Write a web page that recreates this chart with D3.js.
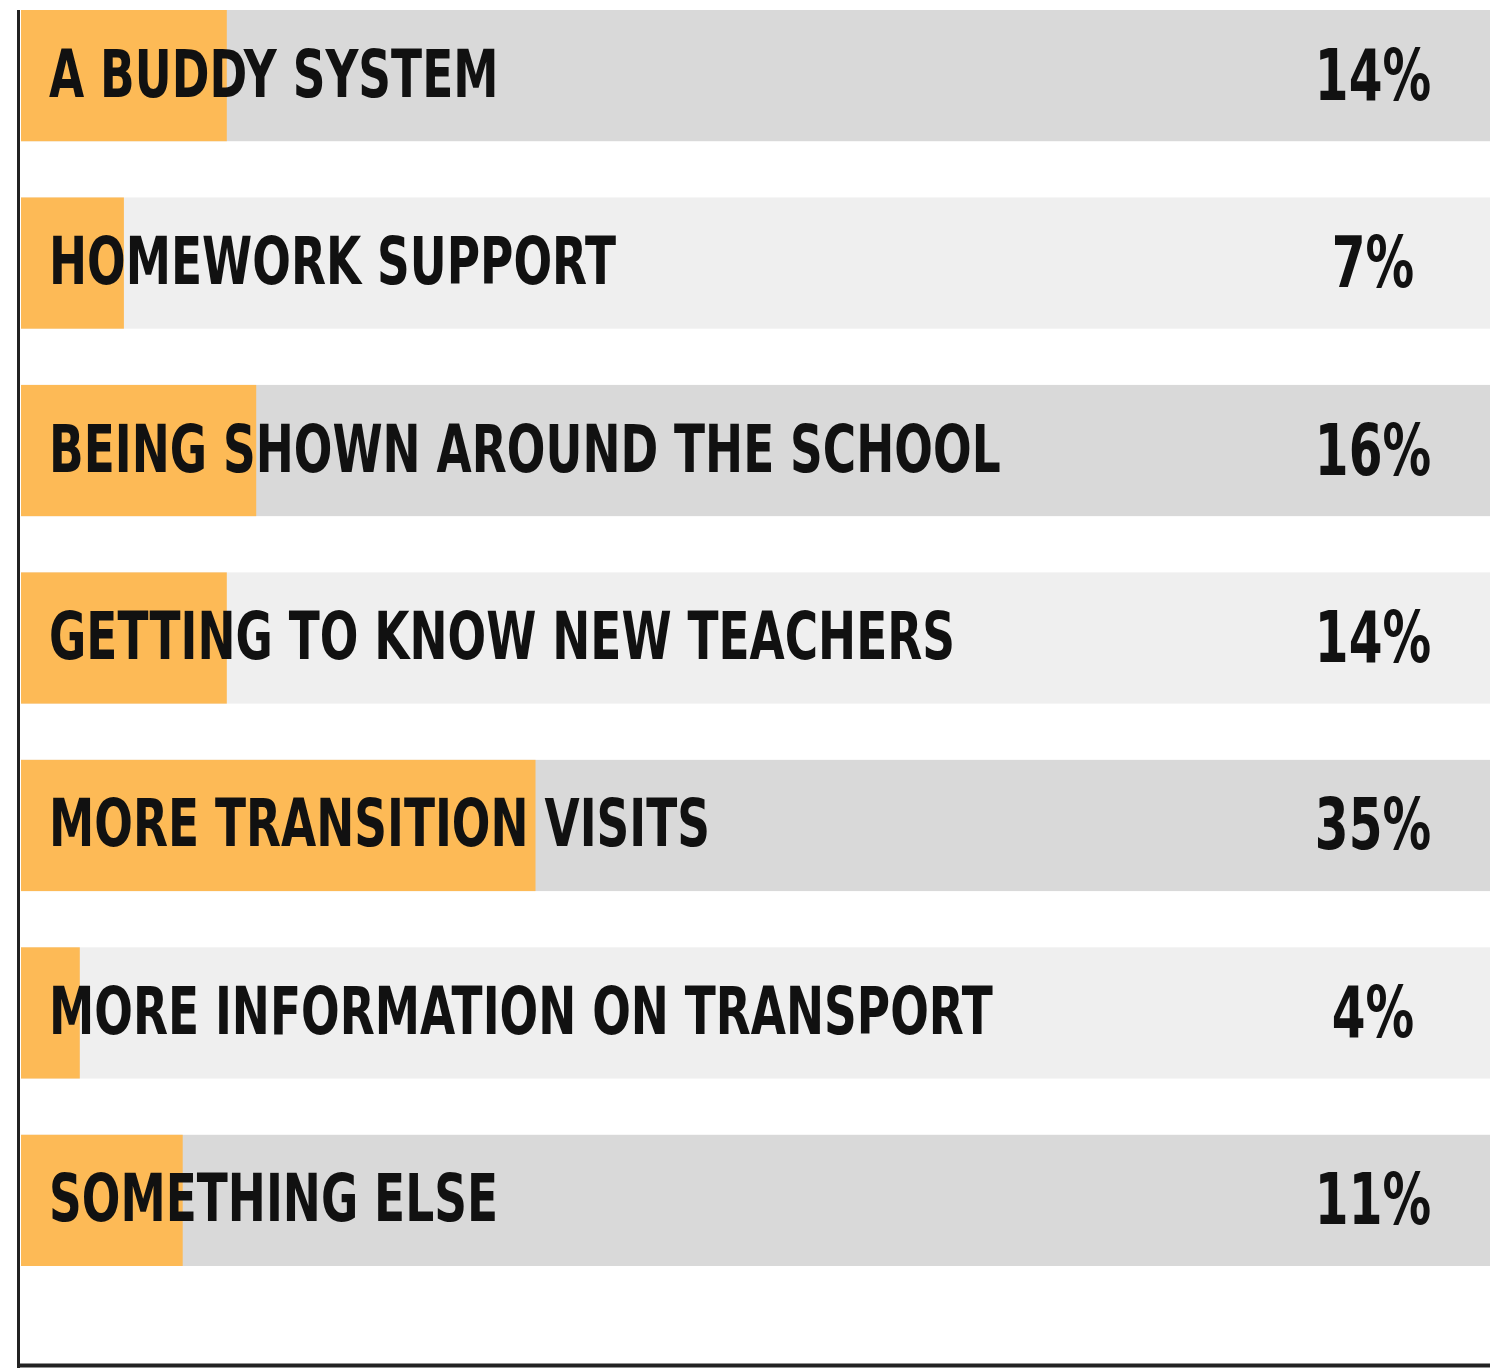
<!DOCTYPE html>
<meta charset="utf-8">
<title>Transition support</title>
<style>
  body { margin: 0; background: #fff; }
  .label, .value { font-family: "DejaVu Sans", sans-serif; font-weight: bold; fill: #111; }
</style>
<body>
<svg width="1498" height="1372"></svg>
<script src="https://d3js.org/d3.v7.min.js"></script>
<script>
  // answers and share of pupils
  var categories = ["A BUDDY SYSTEM", "HOMEWORK SUPPORT", "BEING SHOWN AROUND THE SCHOOL",
    "GETTING TO KNOW NEW TEACHERS", "MORE TRANSITION VISITS", "MORE INFORMATION ON TRANSPORT", "SOMETHING ELSE"];
  var values = [14, 7, 16, 14, 35, 4, 11];
  var valueLabels = ["14%", "7%", "16%", "14%", "35%", "4%", "11%"];

  var data = categories.map(function (c, i) { return { name: c, value: values[i], label: valueLabels[i] }; });

  const svg = d3.select('svg');

  var left = 21, right = 1490;

  var x = d3.scaleLinear().domain([0, 100]).range([left, left + 1470]);
  var y = d3.scaleBand()
    .domain(categories)
    .range([10, 1266])
    .paddingInner(0.3)
    .paddingOuter(0);

  var row = svg.selectAll('.row')
    .data(data)
    .enter().append('g')
    .attr('class', 'row')
    .attr('transform', d => `translate(0,${y(d.name)})`);

  // grey background track
  row.append('rect')
    .attr('x', left)
    .attr('width', right - left)
    .attr('height', y.bandwidth())
    .attr('fill', (d, i) => i % 2 == 0 ? '#d9d9d9' : '#efefef');

  // orange value bar
  row.append('rect')
    .attr('x', x(0))
    .attr('width', d => x(d.value) - x(0))
    .attr('height', y.bandwidth())
    .attr('fill', '#fdba56');

  // no condensed face installed, so squeeze the bold one horizontally
  row.append('g')
    .attr('transform', `translate(49,${y.bandwidth() / 2 + 21}) scale(0.70,1)`)
    .append('text')
    .attr('class', 'label')
    .style('font-size', '65px')
    .text(d => d.name);

  row.append('g')
    .attr('transform', `translate(1373,${y.bandwidth() / 2 + 24}) scale(0.675,1)`)
    .append('text')
    .attr('class', 'value')
    .attr('text-anchor', 'middle')
    .style('font-size', '72px')
    .text(d => d.label);

  // frame: left axis and bottom line
  svg.append('line')
    .attr('x1', 18.5).attr('x2', 18.5)
    .attr('y1', 10).attr('y2', 1368)
    .attr('stroke', '#222').attr('stroke-width', 3);
  svg.append('line')
    .attr('x1', 17).attr('x2', right)
    .attr('y1', 1365.5).attr('y2', 1365.5)
    .attr('stroke', '#222').attr('stroke-width', 4);
</script>
</body>
